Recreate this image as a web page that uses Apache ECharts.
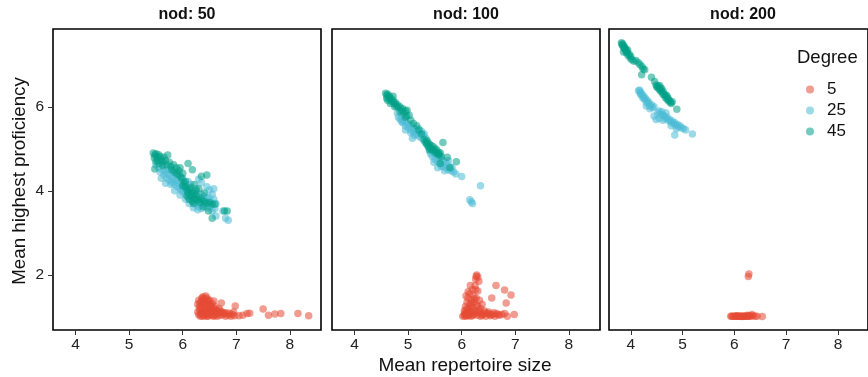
<!DOCTYPE html>
<html>
<head>
<meta charset="utf-8">
<script src="https://cdn.jsdelivr.net/npm/echarts@6/dist/echarts.min.js"></script>
<style>
  html, body { margin: 0; padding: 0; background: #fff; }
  #chart { width: 868px; height: 377px; }
</style>
</head>
<body>
<div id="chart"></div>
<script>
// Facet labels and degree groups
const panels = ['nod: 50', 'nod: 100', 'nod: 200'];
const degrees = ['5', '25', '45'];
const xTicks = [4, 5, 6, 7, 8];
const yTicks = [2, 4, 6];

// nod: 50  — [mean repertoire size, mean highest proficiency]
const r50 = [
  [6.30,1.05],[6.32,1.15],[6.33,1.25],[6.35,1.38],[6.35,1.10],[6.37,1.02],[6.38,1.48],[6.38,1.30],[6.40,1.20],[6.40,1.42],
  [6.42,1.08],[6.42,1.35],[6.44,1.25],[6.45,1.45],[6.45,1.12],[6.47,1.02],[6.48,1.30],[6.48,1.18],[6.50,1.40],[6.50,1.05],
  [6.52,1.22],[6.53,1.10],[6.55,1.32],[6.55,1.17],[6.57,1.02],[6.58,1.12],[6.60,1.25],[6.62,1.06],[6.63,1.15],[6.65,1.02],
  [6.67,1.10],[6.68,1.20],[6.70,1.04],[6.72,1.33],[6.73,1.12],[6.75,1.05],[6.78,1.08],[6.80,1.02],[6.82,1.10],[6.85,1.04],
  [6.88,1.08],[6.90,1.02],[6.93,1.06],[6.95,1.12],[6.98,1.26],[6.97,1.03],[7.05,1.03],[7.12,1.04],[7.20,1.08],[7.25,1.09],
  [7.50,1.19],[7.60,1.04],[7.72,1.07],[7.83,1.08],[8.15,1.08],[8.35,1.03],[6.28,1.30],[6.30,1.40],[6.33,1.02],[6.36,1.45],
  [6.40,1.03],[6.43,1.50],[6.46,1.38],[6.52,1.28],[6.58,1.38],[6.28,1.12],[6.60,1.03],[6.38,1.12],[6.45,1.02],[6.62,1.18],
  [6.55,1.04],[6.32,1.33],[6.36,1.20],[6.41,1.28],[6.44,1.15],[6.47,1.40],[6.50,1.15],[6.34,1.06],[6.39,1.37],[6.43,1.05],
  [6.48,1.08],[6.53,1.25],[6.57,1.20],[6.65,1.12],[6.70,1.15],[6.76,1.10],[6.31,1.22],[6.37,1.43]
];
const b50 = [
  [5.50,4.62],[5.55,4.55],[5.58,4.45],[5.62,4.50],[5.65,4.38],[5.68,4.45],[5.70,4.30],[5.72,4.40],[5.75,4.25],[5.78,4.35],
  [5.80,4.20],[5.82,4.30],[5.85,4.15],[5.88,4.25],[5.90,4.10],[5.92,4.18],[5.95,4.05],[5.98,4.15],[6.00,3.98],[6.02,4.08],
  [6.05,3.92],[6.08,4.00],[6.10,3.85],[6.12,3.95],[6.15,3.78],[6.18,3.88],[6.20,3.72],[6.22,3.82],[6.25,3.68],[6.28,3.78],
  [6.30,3.62],[6.32,3.72],[6.35,3.58],[6.38,3.70],[6.40,3.65],[6.42,3.75],[6.45,3.60],[6.50,3.62],[6.52,3.75],[6.55,3.52],
  [6.58,3.80],[6.62,3.40],[6.60,3.58],[6.75,3.52],[6.80,3.35],[6.85,3.30],[6.58,4.05],[6.50,4.02],[6.45,4.10],[6.35,4.20],
  [6.30,4.28],[5.75,4.50],[5.68,4.18],[5.85,4.00],[5.95,3.90],[6.05,3.80],[6.15,4.15],[6.25,4.05],[6.40,3.88],[5.88,4.40],
  [6.00,4.30],[6.10,4.22],[6.28,3.55],[6.20,3.60],[5.60,4.30],[6.48,3.85],[6.55,3.92],[5.62,4.62],[5.72,4.52],[5.78,4.15],
  [5.82,4.42],[5.90,4.28],[5.98,4.02],[6.05,4.15],[6.12,3.70],[6.22,3.95],[6.35,3.92],[6.45,3.82],[6.52,3.68],[6.62,3.70]
];
const g50 = [
  [5.45,4.90],[5.48,4.85],[5.50,4.88],[5.52,4.80],[5.47,4.78],[5.55,4.86],[5.53,4.72],[5.58,4.82],[5.60,4.75],[5.50,4.70],
  [5.56,4.65],[5.62,4.70],[5.65,4.80],[5.68,4.72],[5.63,4.60],[5.70,4.62],[5.72,4.85],[5.48,4.52],[5.75,4.68],[5.78,4.58],
  [5.80,4.50],[5.83,4.62],[5.85,4.45],[5.88,4.55],[5.90,4.40],[5.93,4.48],[5.95,4.35],[5.98,4.30],[6.00,4.42],[6.02,4.20],
  [6.05,4.10],[6.08,4.02],[6.10,3.95],[6.12,4.05],[6.15,3.88],[6.18,3.98],[6.20,3.92],[6.22,3.82],[6.25,3.90],[6.28,3.78],
  [6.30,3.85],[6.12,3.80],[6.18,3.75],[6.25,4.00],[6.32,3.72],[6.35,3.80],[6.40,3.75],[6.45,3.70],[6.50,3.72],[6.55,3.68],
  [6.48,3.52],[6.55,3.35],[6.78,3.52],[6.83,3.52],[6.10,4.65],[6.18,4.50],[6.35,4.35],[6.45,4.38],[6.05,4.22],[6.15,4.08],
  [6.22,4.15],[6.40,3.95],[5.95,4.55],[6.30,4.05],[6.00,4.12],[6.08,3.88],[6.20,3.70],[6.38,3.62],[6.60,3.68]
];

// nod: 100
const r100 = [
  [6.02,1.02],[6.05,1.06],[6.05,1.15],[6.07,1.25],[6.08,1.02],[6.10,1.35],[6.10,1.10],[6.12,1.45],[6.12,1.20],[6.13,1.04],
  [6.15,1.30],[6.15,1.55],[6.17,1.12],[6.18,1.40],[6.18,1.02],[6.20,1.65],[6.20,1.22],[6.22,1.50],[6.22,1.06],[6.23,1.35],
  [6.25,1.75],[6.25,1.15],[6.26,1.90],[6.27,1.45],[6.28,2.00],[6.28,1.28],[6.29,1.04],[6.30,1.95],[6.30,1.62],[6.31,1.10],
  [6.32,1.85],[6.33,1.40],[6.35,1.20],[6.35,1.02],[6.38,1.30],[6.40,1.06],[6.42,1.15],[6.45,1.02],[6.48,1.08],[6.50,1.12],
  [6.53,1.03],[6.56,1.45],[6.58,1.06],[6.62,1.02],[6.64,1.75],[6.65,1.08],[6.70,1.04],[6.75,1.06],[6.80,1.64],[6.80,1.08],
  [6.83,1.33],[6.85,1.02],[6.92,1.52],[6.98,1.06],[6.12,1.60],[6.08,1.50],[6.16,1.75],[6.26,1.65],[6.12,1.03],[6.20,1.04],
  [6.38,1.04],[6.55,1.05],[6.60,1.10],[6.27,1.97],[6.06,1.10],[6.09,1.18],[6.14,1.12],[6.16,1.25],[6.19,1.32],[6.21,1.14],
  [6.24,1.42],[6.24,1.08],[6.30,1.25],[6.33,1.15],[6.36,1.08],[6.44,1.10],[6.52,1.07],[6.68,1.06],[6.05,1.03],[6.10,1.05]
];
const b100 = [
  [4.80,5.85],[4.82,5.75],[4.85,5.70],[4.88,5.78],[4.90,5.62],[4.92,5.68],[4.95,5.55],[4.97,5.62],[5.00,5.50],[5.02,5.58],
  [5.05,5.45],[5.07,5.52],[5.10,5.40],[5.12,5.48],[5.15,5.35],[5.18,5.42],[5.20,5.30],[5.22,5.38],[5.25,5.25],[5.28,5.32],
  [5.30,5.18],[5.33,5.25],[5.35,5.12],[5.38,5.05],[5.05,5.38],[4.95,5.45],[5.12,5.32],[5.25,5.42],[5.30,5.35],[5.40,4.95],
  [5.42,4.88],[5.45,4.82],[5.48,4.90],[5.50,4.75],[5.52,4.85],[5.55,4.70],[5.57,4.80],[5.60,4.65],[5.62,4.75],[5.65,4.60],
  [5.67,4.70],[5.70,4.55],[5.72,4.65],[5.75,4.50],[5.78,4.58],[5.80,4.48],[5.82,4.55],[5.85,4.45],[5.89,4.40],[6.00,4.34],
  [5.55,4.55],[5.62,4.58],[5.68,4.48],[5.48,4.68],[5.75,4.72],[6.35,4.12],[6.15,3.79],[6.20,3.70],[6.18,3.74],[5.20,5.48],
  [5.08,5.25],[4.88,5.65]
];
const g100 = [
  [4.58,6.32],[4.60,6.28],[4.62,6.30],[4.63,6.22],[4.65,6.25],[4.66,6.18],[4.68,6.20],[4.70,6.12],[4.72,6.15],[4.74,6.08],
  [4.76,6.10],[4.78,6.02],[4.80,6.05],[4.82,5.98],[4.85,6.00],[4.88,5.92],[4.90,5.95],[4.62,6.15],[4.67,6.08],[4.72,6.25],
  [4.60,6.20],[4.75,6.00],[4.85,5.88],[4.92,5.85],[4.95,5.90],[4.98,5.92],[5.02,5.80],[4.97,5.78],[5.10,5.60],[5.16,5.55],
  [5.05,5.68],[5.25,5.35],[5.30,5.22],[5.33,5.15],[5.35,5.10],[5.37,5.15],[5.38,5.05],[5.40,5.10],[5.42,5.00],[5.43,5.08],
  [5.45,4.98],[5.47,5.05],[5.48,4.95],[5.50,5.00],[5.52,4.90],[5.53,4.98],[5.55,4.88],[5.57,4.92],[5.58,4.85],[5.60,4.90],
  [5.62,4.82],[5.65,5.15],[5.73,4.80],[5.90,4.69],[5.78,4.55],[5.60,4.65],[5.35,5.20],[5.40,4.98],[4.95,5.75],[5.20,5.45]
];

// nod: 200
const r200 = [
  [5.93,1.02],[5.95,1.02],[5.97,1.02],[6.00,1.02],[6.02,1.02],[6.04,1.02],[6.06,1.02],[6.08,1.02],[6.10,1.02],[6.12,1.02],
  [6.14,1.02],[6.16,1.02],[6.18,1.02],[6.20,1.02],[6.22,1.02],[6.24,1.02],[6.26,1.02],[6.28,1.02],[6.30,1.03],[6.32,1.02],
  [6.34,1.06],[6.36,1.03],[6.40,1.02],[6.44,1.02],[6.54,1.01],[6.28,2.02],[6.27,1.96],[6.05,1.03],[6.15,1.01],[6.25,1.04]
];
const b200 = [
  [4.15,6.38],[4.17,6.40],[4.18,6.32],[4.19,6.35],[4.20,6.28],[4.22,6.30],[4.23,6.22],[4.25,6.25],[4.26,6.18],[4.28,6.20],
  [4.30,6.12],[4.32,6.15],[4.33,6.08],[4.35,6.10],[4.37,6.02],[4.40,6.05],[4.42,5.98],[4.45,6.00],[4.37,5.95],[4.30,6.02],
  [4.49,5.70],[4.52,5.85],[4.55,5.90],[4.58,5.82],[4.60,5.88],[4.62,5.80],[4.65,5.78],[4.67,5.72],[4.70,5.75],[4.72,5.68],
  [4.75,5.70],[4.77,5.64],[4.80,5.66],[4.82,5.60],[4.85,5.62],[4.87,5.56],[4.90,5.58],[4.92,5.52],[4.95,5.55],[4.98,5.50],
  [5.02,5.48],[5.06,5.45],[4.85,5.33],[5.19,5.35],[4.55,5.72],[4.62,5.68],[4.45,5.78],[4.68,5.85],[4.78,5.55],[4.88,5.48]
];
const g200 = [
  [3.82,7.52],[3.83,7.48],[3.84,7.50],[3.85,7.44],[3.86,7.46],[3.87,7.40],[3.88,7.42],[3.89,7.36],[3.90,7.38],[3.91,7.32],
  [3.92,7.28],[3.93,7.30],[3.95,7.22],[3.97,7.25],[3.99,7.16],[4.02,7.12],[4.06,7.08],[4.10,7.10],[4.15,7.05],[4.18,7.00],
  [4.22,6.95],[4.24,6.90],[4.21,6.76],[4.27,6.88],[4.40,6.70],[4.46,6.60],[4.49,6.52],[4.50,6.48],[4.52,6.45],[4.53,6.50],
  [4.55,6.42],[4.57,6.38],[4.58,6.44],[4.60,6.35],[4.62,6.30],[4.63,6.36],[4.65,6.28],[4.67,6.22],[4.68,6.28],[4.70,6.18],
  [4.72,6.20],[4.73,6.14],[4.75,6.15],[4.77,6.10],[4.78,6.08],[4.80,6.12],[4.89,5.94],[4.56,6.50],[4.60,6.42],[4.70,6.25],
  [3.86,7.30],[3.94,7.35],[4.00,7.20]
];

const panelData = [[r50, b50, g50], [r100, b100, g100], [r200, b200, g200]];
const colors = ['#E64B35', '#4DBBD5', '#00A087'];

const FONT = 'Liberation Sans, Arial, Helvetica, sans-serif';
const gridLeft = [53, 332, 609];
const gridTop = 29, gridW = 268, gridH = 301;

const grids = [], xAxes = [], yAxes = [], series = [], graphics = [];
panels.forEach((p, i) => {
  grids.push({
    left: gridLeft[i], top: gridTop, width: gridW, height: gridH,
    show: true, borderColor: '#000', borderWidth: 1.6, backgroundColor: '#fff'
  });
  xAxes.push({
    gridIndex: i, type: 'value', min: 3.58, max: 8.58,
    axisLine: { show: false },
    splitLine: { show: false },
    axisTick: { show: true, length: 5, lineStyle: { color: '#333', width: 1 }, customValues: xTicks },
    axisLabel: { color: '#222', fontSize: 15.5, fontFamily: FONT, margin: 7, customValues: xTicks }
  });
  yAxes.push({
    gridIndex: i, type: 'value', min: 0.69, max: 7.85,
    axisLine: { show: false },
    splitLine: { show: false },
    axisTick: { show: i === 0, length: 5, lineStyle: { color: '#333', width: 1 }, customValues: yTicks },
    axisLabel: { show: i === 0, color: '#222', fontSize: 15.5, fontFamily: FONT, margin: 9, customValues: yTicks }
  });
  panelData[i].forEach((d, k) => {
    series.push({
      name: degrees[k], type: 'scatter', xAxisIndex: i, yAxisIndex: i,
      data: d, symbol: 'circle', symbolSize: 7.5,
      itemStyle: { color: colors[k], opacity: 0.55 },
      emphasis: { disabled: true }, silent: true, z: 2 + k
    });
  });
  graphics.push({
    type: 'text', x: gridLeft[i] + gridW / 2, y: 15,
    style: { text: p, font: 'bold 16px ' + FONT, fill: '#111', textAlign: 'center', textVerticalAlign: 'middle' }
  });
});

// Axis titles and legend heading
graphics.push({
  type: 'text', x: 465, y: 366,
  style: { text: 'Mean repertoire size', font: '19px ' + FONT, fill: '#111', textAlign: 'center', textVerticalAlign: 'middle' }
});
graphics.push({
  type: 'text', x: 20, y: 181, rotation: Math.PI / 2,
  style: { text: 'Mean highest proficiency', font: '18.8px ' + FONT, fill: '#111', textAlign: 'center', textVerticalAlign: 'middle' }
});
graphics.push({
  type: 'text', x: 797, y: 58, z: 100,
  style: { text: 'Degree', font: '18.5px ' + FONT, fill: '#111', textAlign: 'left', textVerticalAlign: 'middle' }
});

const chart = echarts.init(document.getElementById('chart'), null, { renderer: 'canvas' });
chart.setOption({
  animation: false,
  backgroundColor: '#fff',
  grid: grids,
  xAxis: xAxes,
  yAxis: yAxes,
  series: series,
  graphic: graphics,
  legend: {
    data: degrees, orient: 'vertical', left: 801, top: 76,
    icon: 'circle', itemWidth: 8, itemHeight: 8, itemGap: 4,
    selectedMode: false,
    textStyle: { fontSize: 17, fontFamily: FONT, color: '#111', padding: [0, 0, 0, 8] },
    itemStyle: { opacity: 0.55 }
  }
});
</script>
</body>
</html>
